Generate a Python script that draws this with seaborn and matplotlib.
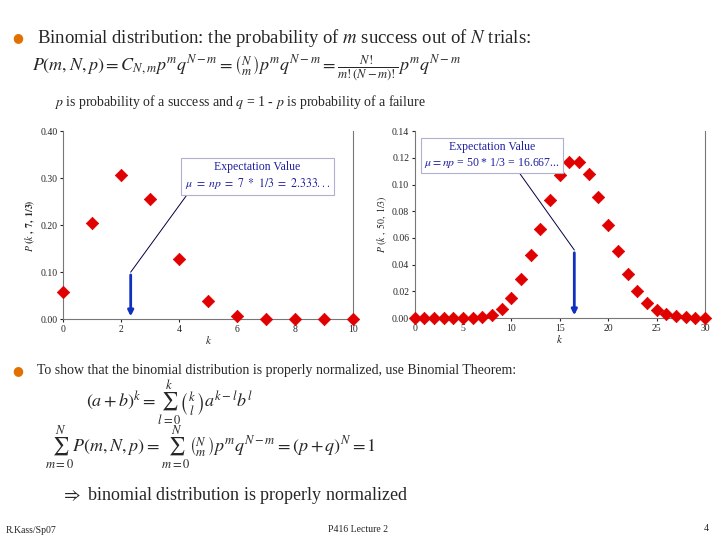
import numpy as np
import pandas as pd
import seaborn as sns
from matplotlib import pyplot as plt

k_small = list(range(11))
p_small = [0.0585, 0.2048, 0.3073, 0.2561, 0.1280, 0.0384, 0.0064, 0.0005, 0.0, 0.0, 0.0]
k_large = list(range(31))
p_large = [0.0, 0.0, 0.0, 0.0, 0.0, 0.0, 0.0002, 0.0008, 0.0025, 0.0066, 0.0150,
           0.0289, 0.0470, 0.0669, 0.0884, 0.1072, 0.1172, 0.1172, 0.1078, 0.0905, 0.0701,
           0.0501, 0.0330, 0.0200, 0.0111, 0.0057, 0.0027, 0.0012, 0.0005, 0.0002, 0.0001]

sns.set_style("white")
plt.rcParams['font.family'] = 'Liberation Serif'
plt.rcParams['mathtext.fontset'] = 'stix'

fig = plt.figure(figsize=(7.2, 5.4), dpi=100)
fig.patch.set_facecolor('white')


def panel(rect, k, p, ylim, yticks, yfmt, xticks, ylabel, mu, arrow_top, elbow, box_xy, box_text):
    ax = fig.add_axes(rect)
    sns.scatterplot(x=k, y=p, ax=ax, marker='D', color='#e00000', s=40, edgecolor='#e00000',
                    zorder=3, clip_on=False)
    ax.set_xlim(k[0], k[-1])
    ax.set_ylim(*ylim)
    ax.set_yticks(yticks)
    ax.set_yticklabels([yfmt.format(t) for t in yticks], fontsize=7)
    ax.set_xticks(xticks)
    ax.set_xticklabels([str(t) for t in xticks], fontsize=7)
    ax.set_xlabel('$\\mathbf{\\mathit{k}}$', fontsize=8, labelpad=0)
    ax.set_ylabel(ylabel, fontsize=7, labelpad=2)
    ax.spines['top'].set_visible(False)
    for s in ['left', 'bottom', 'right']:
        ax.spines[s].set_color('#777777')
        ax.spines[s].set_linewidth(0.8)
    ax.tick_params(length=2, pad=2, left=True, bottom=True)
    ax.plot([mu, elbow[0]], [arrow_top, elbow[1]], color='#000040', lw=0.7, zorder=2)
    ax.annotate('', xy=(mu, 0), xytext=(mu, arrow_top),
                arrowprops=dict(arrowstyle='-|>', color='#1030c0', lw=2, mutation_scale=8))
    ax.text(box_xy[0], box_xy[1], box_text, ha='center', va='center', fontsize=8.5,
            color='#2020a0', linespacing=1.3,
            bbox=dict(boxstyle='square,pad=0.3', fc='white', ec='#b0b0d0', lw=0.8), zorder=4)
    return ax


panel([0.0875, 0.409, 0.403, 0.348], k_small, p_small, (0, 0.40), [0, 0.1, 0.2, 0.3, 0.4], '{:.2f}',
      [0, 2, 4, 6, 8, 10], '$\\mathbf{\\mathit{P}\\ (\\mathit{k}\\ ,\\ 7,\\ 1/3)}$', 2.333, 0.10, (4.5, 0.284),
      (6.7, 0.305), 'Expectation Value\n$\\mu\\ =\\ np\\ =\\ 7\\ *\\ 1/3\\ =\\ 2.333...$')
panel([0.576, 0.411, 0.403, 0.346], k_large, p_large, (0, 0.14), [0, 0.02, 0.04, 0.06, 0.08, 0.10, 0.12, 0.14],
      '{:.2f}', [0, 5, 10, 15, 20, 25, 30], '$\\mathit{P}\\ (\\mathit{k}\\ ,\\ 50,\\ 1/3)$', 16.5, 0.051,
      (10.5, 0.112), (8.0, 0.122), 'Expectation Value\n$\\mu = np$ = 50 * 1/3 = 16.667...')

# slide text
fig.text(0.0167, 0.930, '\u25cf', color='#e07000', fontsize=9, va='center', fontfamily='DejaVu Sans')
fig.text(0.052, 0.930, 'Binomial distribution: the probability of $m$ success out of $N$ trials:',
         fontsize=13.5, va='center')
fig.text(0.045, 0.873, '$P(m,N,p)=C_{N,m}p^m q^{N-m}=\\binom{N}{m}p^m q^{N-m}=\\frac{N!}{m!(N-m)!}p^m q^{N-m}$',
         fontsize=13, va='center')
fig.text(0.075, 0.811, '$p$ is probability of a success and $q$ = 1 - $p$ is probability of a failure',
         fontsize=10, va='center')
fig.text(0.0167, 0.313, '\u25cf', color='#e07000', fontsize=9, va='center', fontfamily='DejaVu Sans')
fig.text(0.052, 0.313, 'To show that the binomial distribution is properly normalized, use Binomial Theorem:',
         fontsize=10, va='center')
fig.text(0.12, 0.255, '$(a+b)^k=\\sum_{l=0}^{k}\\binom{k}{l}a^{k-l}b^l$', fontsize=13, va='center')
fig.text(0.063, 0.172, '$\\sum_{m=0}^{N}P(m,N,p)=\\sum_{m=0}^{N}\\binom{N}{m}p^m q^{N-m}=(p+q)^N=1$',
         fontsize=13, va='center')
fig.text(0.085, 0.082, '$\\Rightarrow$ binomial distribution is properly normalized', fontsize=13, va='center')
fig.text(0.008, 0.018, 'R.Kass/Sp07', fontsize=7, va='center')
fig.text(0.455, 0.020, 'P416 Lecture 2', fontsize=7, va='center')
fig.text(0.985, 0.022, '4', fontsize=7, va='center', ha='right')

fig.savefig('out.png', dpi=100)
